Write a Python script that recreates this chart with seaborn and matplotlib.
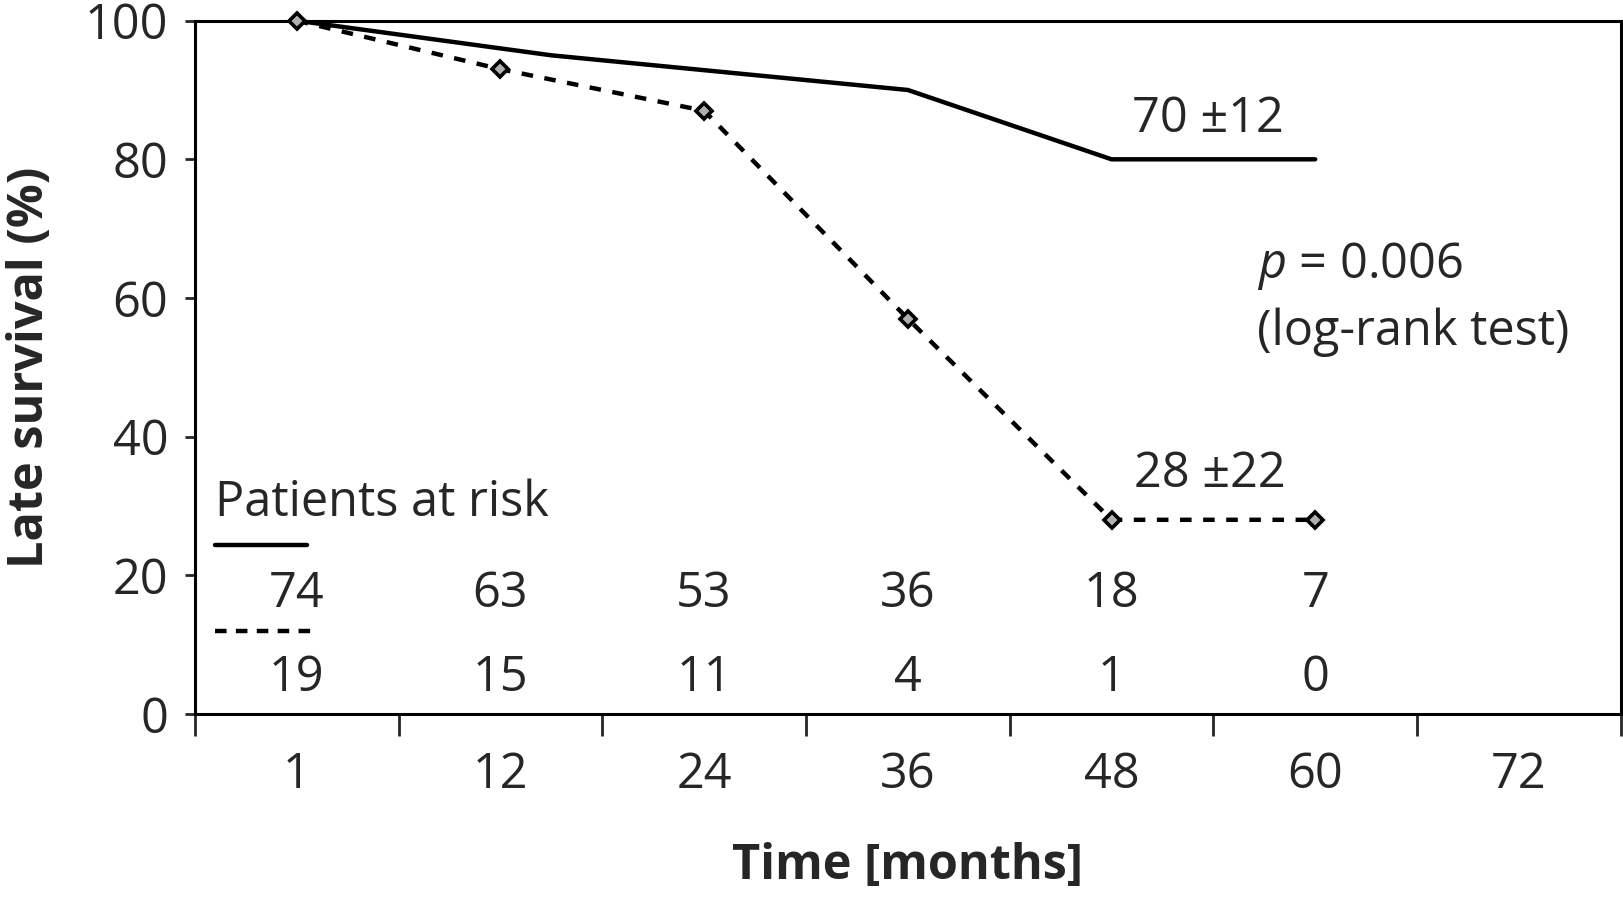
import pandas as pd
import seaborn as sns
import matplotlib.pyplot as plt

# Survival curves (x in months, first point is month "1" drawn at the first slot)
solid_time = [0, 15, 36, 48, 60]
solid_surv = [100, 95, 90, 80, 80]
dashed_time = [0, 12, 24, 36, 48, 60]
dashed_surv = [100, 93, 87, 57, 28, 28]

# Patients at risk
risk_time = [0, 12, 24, 36, 48, 60]
risk_solid = [74, 63, 53, 36, 18, 7]
risk_dashed = [19, 15, 11, 4, 1, 0]

tick_pos = [0, 12, 24, 36, 48, 60, 72]
tick_labels = ["1", "12", "24", "36", "48", "60", "72"]

sns.set_style("white")
plt.rcParams['font.family'] = ['Open Sans', 'DejaVu Sans']
plt.rcParams['mathtext.fontset'] = 'custom'
plt.rcParams['mathtext.rm'] = 'Open Sans'
plt.rcParams['mathtext.it'] = 'Open Sans:italic'

FS = 35
DASH = (0, (2.6, 2.6))

fig = plt.figure(figsize=(16.24, 8.98), dpi=100)
ax = fig.add_axes([0.12, 0.205, 0.878, 0.772])

df_solid = pd.DataFrame({'time': solid_time, 'survival': solid_surv})
df_dashed = pd.DataFrame({'time': dashed_time, 'survival': dashed_surv})

sns.lineplot(data=df_solid, x='time', y='survival', color='black', lw=3.2, ax=ax,
             clip_on=False, zorder=3)
sns.lineplot(data=df_dashed, x='time', y='survival', color='black', lw=3.2,
             linestyle=DASH, marker='D', markersize=8.5,
             markerfacecolor='#b0b0b0', markeredgecolor='black', markeredgewidth=2.6,
             ax=ax, clip_on=False, zorder=4)

ax.set_xlim(-6, 78)
ax.set_ylim(0, 100)
ax.set_yticks(range(0, 101, 20))
ax.set_xticks([-6, 6, 18, 30, 42, 54, 66, 78])
ax.set_xticklabels([])
ax.set_xticks(tick_pos, minor=True)
ax.set_xticklabels(tick_labels, minor=True)
ax.tick_params(axis='x', which='major', direction='out', length=16, width=2, bottom=True)
ax.tick_params(axis='x', which='minor', length=0, pad=26, labelsize=FS, bottom=True)
ax.tick_params(axis='y', direction='out', length=7, width=2, pad=12, labelsize=FS, left=True)
for s in ax.spines.values():
    s.set_linewidth(2.2)
    s.set_color('black')

ax.set_xlabel("Time [months]", fontsize=FS, fontweight='bold')
ax.xaxis.set_label_coords(0.5, -0.185)
ax.xaxis.label.set_va('top')
ax.set_ylabel("Late survival (%)", fontsize=FS, fontweight='bold')
ax.yaxis.set_label_coords(-0.115, 0.5)
ax.yaxis.label.set_va('center')

# Annotations
ax.text(53.7, 85.8, "70 ±12", fontsize=FS, ha='center', va='center')
ax.text(53.8, 34.5, "28 ±22", fontsize=FS, ha='center', va='center')
ax.text(56.6, 64.6, "$p$ = 0.006", fontsize=FS, ha='left', va='center')
ax.text(56.6, 55.1, "(log-rank test)", fontsize=FS, ha='left', va='center')

# Patients at risk table
ax.text(-4.8, 30.4, "Patients at risk", fontsize=FS, ha='left', va='center')
ax.plot([-4.8, 0.6], [24.4, 24.4], color='black', lw=3.2)
ax.plot([-4.8, 0.9], [12, 12], color='black', lw=3.2, linestyle=(0, (2.6, 2.1)))
for t, n in zip(risk_time, risk_solid):
    ax.text(t, 17.3, str(n), fontsize=FS, ha='center', va='center')
for t, n in zip(risk_time, risk_dashed):
    ax.text(t, 5.2, str(n), fontsize=FS, ha='center', va='center')

fig.savefig("out.png", dpi=100)
